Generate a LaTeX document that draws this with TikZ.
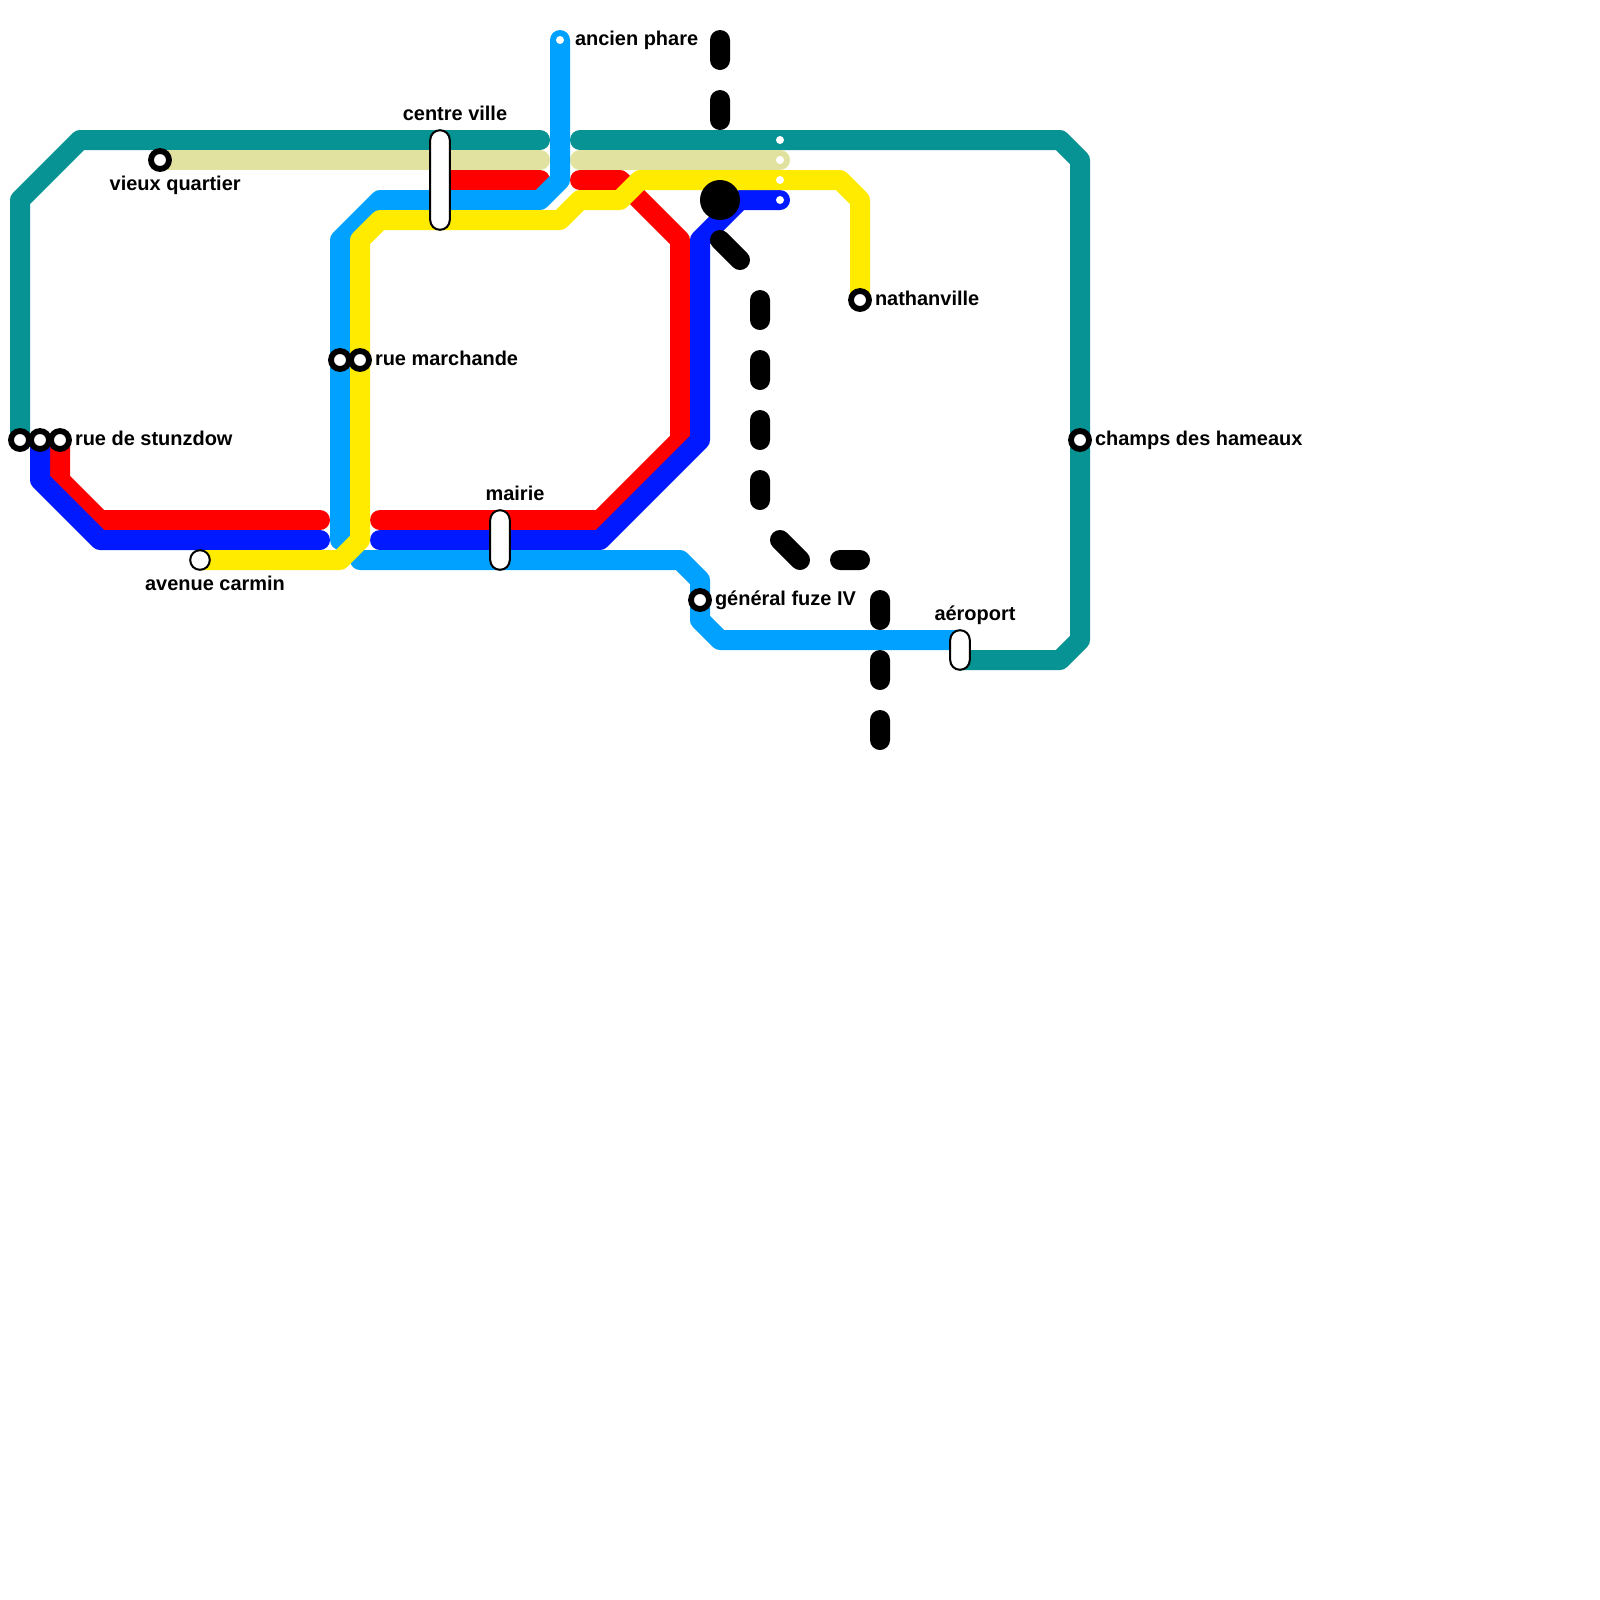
\documentclass[tikz,border=0pt]{standalone}
\usepackage{fontspec}
\setmainfont{Liberation Sans}
\usepackage{tikz}
\usetikzlibrary{positioning,backgrounds}
\definecolor{lineteal}{HTML}{079293}
\definecolor{linebeige}{HTML}{E2E2A0}
\definecolor{linered}{HTML}{FF0000}
\definecolor{lineblue}{HTML}{0019FF}
\definecolor{linecyan}{HTML}{00A1FF}
\definecolor{lineyellow}{HTML}{FFEB00}

\begin{document}
\begin{tikzpicture}[
  x=0.5cm, y=-0.5cm,
  metro/.style={line width=0.5cm, line cap=round, line join=round},
  station/.style={
    circle, draw=black, fill=white, line width=0.145cm,
    minimum size=0.45cm, inner sep=0pt, outer sep=0pt
  },
  plainstop/.style={
    circle, draw=black, fill=white, line width=0.05cm,
    minimum size=0.49cm, inner sep=0pt, outer sep=0pt
  },
  terminus/.style={circle, fill=white, minimum size=0.2cm, inner sep=0pt, outer sep=0pt},
  hub/.style={circle, fill=black, minimum size=1cm, inner sep=0pt, outer sep=0pt},
  pill/.style={
    rectangle, draw=black, fill=white, line width=0.05cm, rounded corners=0.245cm,
    minimum width=0.49cm, inner sep=0pt, outer sep=0pt
  },
  stoplabel/.style={
    inner sep=0pt, outer sep=0pt, text height=0.36cm, text depth=0.1cm,
    font=\fontsize{14.2}{16}\selectfont\bfseries
  },
]
  \useasboundingbox (0,0) rectangle (80,80);

  % Stations
  \node[station] (stunzdowA) at (1,22) {};
  \node[station] (stunzdowB) at (2,22) {};
  \node[station] (stunzdowC) at (3,22) {};
  \node[station] (vieux) at (8,8) {};
  \node[plainstop] (carmin) at (10,28) {};
  \node[station] (marchandeA) at (17,18) {};
  \node[station] (marchandeB) at (18,18) {};
  \node[station] (fuze) at (35,30) {};
  \node[station] (nathanville) at (43,15) {};
  \node[station] (champs) at (54,22) {};
  \node[pill, minimum height=2.49cm] (centreville) at (22,9) {};
  \node[pill, minimum height=1.49cm] (mairie) at (25,27) {};
  \node[pill, minimum height=0.99cm] (aeroport) at (48,32.5) {};
  \node[hub] (hubstop) at (36,10) {};

  % Line ends without a station
  \node[terminus] (phare) at (28,2) {};
  \node[terminus] (dotteal) at (39,7) {};
  \node[terminus] (dotbeige) at (39,8) {};
  \node[terminus] (dotyellow) at (39,9) {};
  \node[terminus] (dotblue) at (39,10) {};
  \coordinate (tealA) at (27,7);
  \coordinate (tealB) at (29,7);
  \coordinate (beigeA) at (27,8);
  \coordinate (beigeB) at (29,8);
  \coordinate (redA) at (16,26);
  \coordinate (redB) at (19,26);
  \coordinate (redC) at (29,9);
  \coordinate (redD) at (27,9);
  \coordinate (blueA) at (16,27);
  \coordinate (blueB) at (19,27);
  \coordinate (cyanA) at (17,27);
  \coordinate (cyanB) at (18,28);

  % Labels
  \node[stoplabel, right=0.15cm of stunzdowC] (lblstunzdow) {rue de stunzdow};
  \node[stoplabel, below=0.165cm of vieux, xshift=0.38cm] (lblvieux) {vieux quartier};
  \node[stoplabel, below=0.165cm of carmin, xshift=0.375cm] (lblcarmin) {avenue carmin};
  \node[stoplabel, right=0.15cm of marchandeB] (lblmarchande) {rue marchande};
  \node[stoplabel, above=0.15cm of centreville, xshift=0.375cm] (lblcentre) {centre ville};
  \node[stoplabel, right=0.275cm of phare] (lblphare) {ancien phare};
  \node[stoplabel, above=0.15cm of mairie, xshift=0.375cm] (lblmairie) {mairie};
  \node[stoplabel, right=0.15cm of fuze] (lblfuze) {général fuze IV};
  \node[stoplabel, above=0.15cm of aeroport, xshift=0.375cm] (lblaeroport) {aéroport};
  \node[stoplabel, right=0.15cm of nathanville] (lblnathan) {nathanville};
  \node[stoplabel, right=0.15cm of champs] (lblchamps) {champs des hameaux};

  % Lines
  \begin{scope}[on background layer]
    \draw[metro, lineteal] (stunzdowA.center) -- (1,10) -- (4,7) -- (tealA);
    \draw[metro, lineteal] (tealB) -- (dotteal.center) -- (53,7) -- (54,8) -- (champs.center)
      -- (54,32) -- (53,33) -- ([yshift=-0.25cm]aeroport.center);
    \draw[metro, linebeige] (vieux.center) -- (beigeA);
    \draw[metro, linebeige] (beigeB) -- (dotbeige.center);
    \draw[metro, linered] (stunzdowC.center) -- (3,24) -- (5,26) -- (redA);
    \draw[metro, linered] (redB) -- (30,26) -- (34,22) -- (34,12) -- (31,9) -- (redC);
    \draw[metro, linered] (centreville.center) -- (redD);
    \draw[metro, lineblue] (stunzdowB.center) -- (2,24) -- (5,27) -- (blueA);
    \draw[metro, lineblue] (blueB) -- (30,27) -- (35,22) -- (35,12) -- (37,10) -- (dotblue.center);
    \draw[metro, linecyan] (phare.center) -- (28,9) -- (27,10) -- (19,10) -- (17,12)
      -- (marchandeA.center) -- (cyanA);
    \draw[metro, linecyan] (cyanB) -- (34,28) -- (35,29) -- (fuze.center) -- (35,31) -- (36,32)
      -- ([yshift=0.25cm]aeroport.center);
    \draw[metro, lineyellow] (carmin.center) -- (17,28) -- (18,27) -- (marchandeB.center)
      -- (18,12) -- (19,11) -- (28,11) -- (29,10) -- (31,10) -- (32,9) -- (dotyellow.center)
      -- (42,9) -- (43,10) -- (nathanville.center);
    % Black line, in pieces
    \draw[metro, black] (36,2) -- (36,3) (36,5) -- (36,6) (36,12) -- (37,13)
      (38,15) -- (38,16) (38,18) -- (38,19) (38,21) -- (38,22) (38,24) -- (38,25)
      (39,27) -- (40,28) (42,28) -- (43,28)
      (44,30) -- (44,31) (44,33) -- (44,34) (44,36) -- (44,37);
  \end{scope}
\end{tikzpicture}
\end{document}
